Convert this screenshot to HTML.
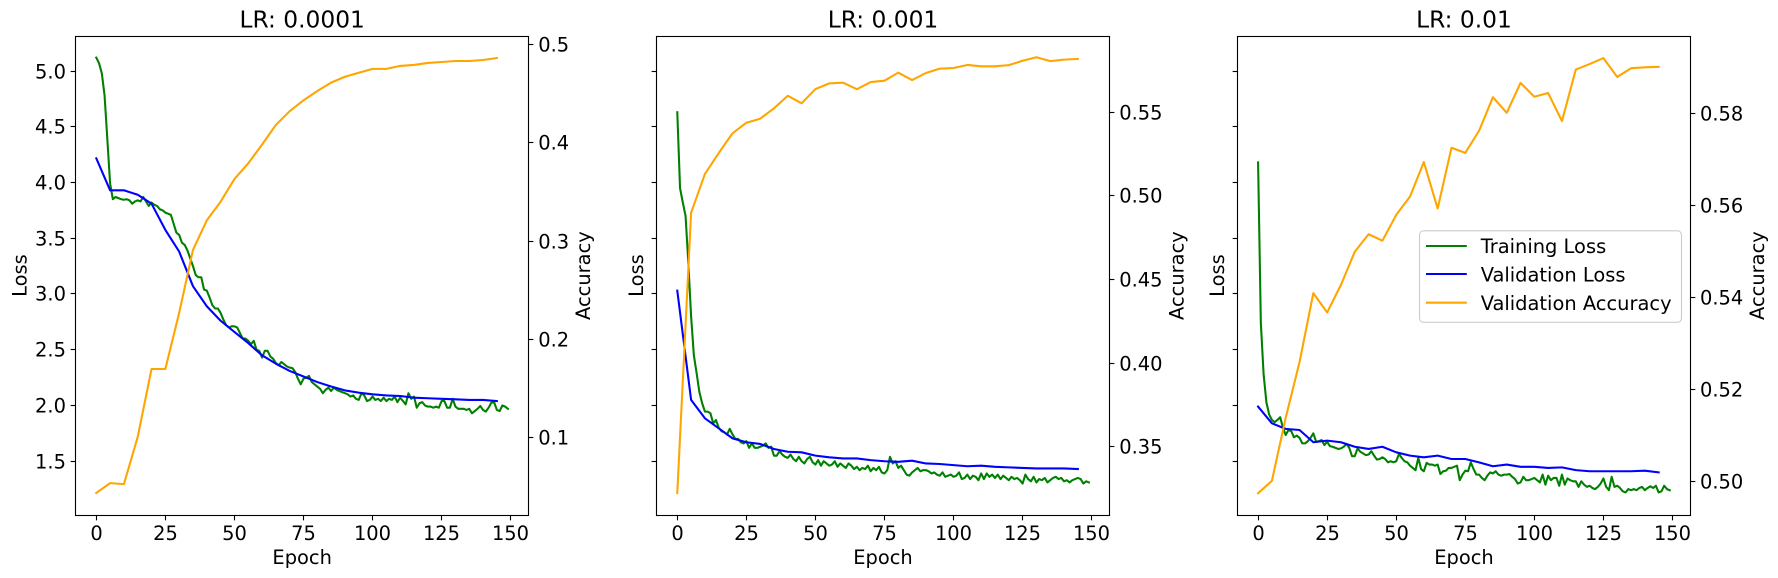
<!DOCTYPE html>
<html lang="en">
<head>
<meta charset="utf-8">
<title>Learning rate comparison</title>
<style>
html,body{margin:0;padding:0;background:#fff;}
svg{display:block;}
text{font-family:"DejaVu Sans","Liberation Sans",sans-serif;fill:#000;}
.lbl{font-size:19.44px;}
.ttl{font-size:23.33px;text-anchor:middle;}
</style>
</head>
<body>
<svg id="chart" xmlns="http://www.w3.org/2000/svg" width="1778" height="578" viewBox="0 0 1778 578">
  <rect x="0" y="0" width="1778" height="578" fill="#fff"/>
  <g id="panel-0"></g>
  <g id="panel-1"></g>
  <g id="panel-2"></g>

  <text class="ttl" x="302.2" y="27.7">LR: 0.0001</text>
  <text class="ttl" x="883" y="27.7">LR: 0.001</text>
  <text class="ttl" x="1464" y="27.7">LR: 0.01</text>

  <text class="lbl" x="302.2" y="564" text-anchor="middle">Epoch</text>
  <text class="lbl" x="883" y="564" text-anchor="middle">Epoch</text>
  <text class="lbl" x="1464" y="564" text-anchor="middle">Epoch</text>

  <text class="lbl" text-anchor="middle" transform="translate(26.5,275.6) rotate(-90)">Loss</text>
  <text class="lbl" text-anchor="middle" transform="translate(643,275.6) rotate(-90)">Loss</text>
  <text class="lbl" text-anchor="middle" transform="translate(1224,275.6) rotate(-90)">Loss</text>

  <text class="lbl" text-anchor="middle" transform="translate(590,275.6) rotate(-90)">Accuracy</text>
  <text class="lbl" text-anchor="middle" transform="translate(1183.5,275.6) rotate(-90)">Accuracy</text>
  <text class="lbl" text-anchor="middle" transform="translate(1764,275.6) rotate(-90)">Accuracy</text>

  <g>
    <rect x="1419.5" y="230.8" width="262" height="91.5" rx="4" ry="4" fill="#fff" fill-opacity="0.8" stroke="#ccc" stroke-width="1.11"/>
    <line x1="1426" x2="1466.8" y1="246" y2="246" stroke="#008000" stroke-width="2.08"/>
    <text class="lbl" x="1480.7" y="253">Training Loss</text>
    <line x1="1426" x2="1466.8" y1="274" y2="274" stroke="#0000ff" stroke-width="2.08"/>
    <text class="lbl" x="1480.7" y="281.5">Validation Loss</text>
    <line x1="1426" x2="1466.8" y1="302.7" y2="302.7" stroke="#ffa500" stroke-width="2.08"/>
    <text class="lbl" x="1480.7" y="310">Validation Accuracy</text>
  </g>
</svg>
<script>
// Data: loss per epoch (0-149), validation metrics every 5 epochs (0-145)
const xTicks = [0, 25, 50, 75, 100, 125, 150];
const lossTicks = [1.5, 2.0, 2.5, 3.0, 3.5, 4.0, 4.5, 5.0];
const lossDomain = [1.015, 5.314];
const epochDomain = [-7.45, 156.45];
const valEvery = 5;

const trainLoss1 = [5.12,5.07,4.98,4.78,4.39,3.99,3.85,3.87,3.86,3.85,3.845,3.85,3.84,3.81,3.83,3.84,3.83,3.87,3.83,3.79,3.82,3.80,3.79,3.76,3.75,3.73,3.72,3.71,3.63,3.55,3.53,3.46,3.44,3.39,3.32,3.25,3.17,3.15,3.15,3.04,3.03,2.97,2.90,2.87,2.87,2.83,2.77,2.72,2.70,2.71,2.71,2.70,2.65,2.60,2.60,2.58,2.55,2.58,2.50,2.49,2.43,2.49,2.49,2.44,2.42,2.38,2.36,2.39,2.37,2.35,2.34,2.335,2.30,2.24,2.19,2.24,2.25,2.265,2.21,2.19,2.17,2.15,2.11,2.14,2.16,2.13,2.16,2.14,2.13,2.12,2.11,2.10,2.08,2.09,2.06,2.05,2.11,2.09,2.04,2.05,2.08,2.05,2.06,2.04,2.07,2.04,2.06,2.05,2.08,2.03,2.07,2.04,2.01,2.11,2.06,2.08,1.98,2.02,2.03,2.00,1.99,1.99,1.98,1.99,1.98,2.04,2.04,1.98,1.98,2.06,1.99,1.97,1.97,1.97,1.96,1.97,1.93,1.95,1.97,1.995,1.96,1.945,1.98,2.025,2.03,1.96,1.95,2.00,1.99,1.97];
const valLoss1 = [4.217,3.93,3.93,3.89,3.81,3.575,3.38,3.07,2.89,2.76,2.66,2.56,2.45,2.375,2.31,2.26,2.21,2.17,2.135,2.115,2.10,2.09,2.085,2.07,2.065,2.06,2.055,2.05,2.05,2.04];
const valAcc1 = [0.044,0.054,0.053,0.101,0.170,0.170,0.227,0.291,0.321,0.340,0.363,0.379,0.398,0.418,0.432,0.443,0.4525,0.461,0.467,0.471,0.475,0.475,0.478,0.479,0.481,0.482,0.483,0.483,0.484,0.486];
const accTicks1 = [0.1, 0.2, 0.3, 0.4, 0.5];
const accLabels1 = ["0.1","0.2","0.3","0.4","0.5"];
const accDomain1 = [0.0213, 0.5084];

const trainLoss2 = [4.63,3.95,3.82,3.70,3.28,2.80,2.45,2.29,2.12,2.02,1.945,1.945,1.93,1.84,1.87,1.80,1.77,1.76,1.74,1.79,1.74,1.70,1.70,1.67,1.66,1.68,1.62,1.66,1.62,1.62,1.63,1.64,1.66,1.62,1.63,1.55,1.55,1.59,1.56,1.54,1.53,1.56,1.52,1.50,1.54,1.50,1.48,1.52,1.54,1.49,1.47,1.51,1.46,1.50,1.48,1.46,1.47,1.50,1.45,1.48,1.46,1.44,1.48,1.46,1.43,1.45,1.42,1.44,1.43,1.46,1.41,1.44,1.42,1.45,1.40,1.39,1.42,1.54,1.48,1.50,1.44,1.46,1.42,1.38,1.37,1.40,1.42,1.44,1.41,1.42,1.42,1.41,1.39,1.40,1.38,1.37,1.40,1.36,1.37,1.38,1.36,1.37,1.40,1.34,1.35,1.38,1.34,1.37,1.36,1.33,1.39,1.34,1.39,1.36,1.38,1.35,1.38,1.34,1.37,1.35,1.33,1.36,1.34,1.35,1.33,1.30,1.38,1.34,1.32,1.36,1.31,1.34,1.33,1.35,1.31,1.33,1.35,1.36,1.34,1.35,1.32,1.33,1.31,1.33,1.34,1.35,1.34,1.30,1.32,1.31];
const valLoss2 = [3.03,2.05,1.885,1.795,1.705,1.67,1.655,1.61,1.585,1.58,1.55,1.535,1.525,1.525,1.51,1.50,1.495,1.505,1.48,1.475,1.465,1.455,1.46,1.45,1.445,1.44,1.435,1.435,1.435,1.43];
const valAcc2 = [0.3224,0.4898,0.513,0.5255,0.5373,0.5436,0.546,0.5522,0.5597,0.5552,0.5637,0.5671,0.5675,0.5636,0.5679,0.5687,0.5735,0.5691,0.5733,0.5759,0.5763,0.5781,0.5773,0.5773,0.578,0.5806,0.5827,0.5804,0.5813,0.5817];
const accTicks2 = [0.35, 0.40, 0.45, 0.50, 0.55];
const accLabels2 = ["0.35","0.40","0.45","0.50","0.55"];
const accDomain2 = [0.3091, 0.5954];

const trainLoss3 = [4.18,2.74,2.28,2.03,1.92,1.87,1.85,1.87,1.895,1.80,1.735,1.78,1.77,1.715,1.73,1.71,1.66,1.66,1.68,1.71,1.75,1.675,1.68,1.69,1.645,1.675,1.635,1.63,1.62,1.61,1.615,1.63,1.655,1.62,1.545,1.545,1.615,1.585,1.57,1.555,1.56,1.59,1.55,1.515,1.52,1.535,1.52,1.49,1.50,1.49,1.50,1.565,1.53,1.50,1.49,1.46,1.44,1.42,1.53,1.43,1.41,1.485,1.47,1.47,1.46,1.47,1.385,1.41,1.415,1.44,1.44,1.45,1.46,1.33,1.38,1.415,1.41,1.49,1.43,1.38,1.38,1.35,1.33,1.37,1.40,1.39,1.41,1.38,1.37,1.38,1.38,1.385,1.36,1.34,1.30,1.31,1.36,1.33,1.33,1.34,1.35,1.33,1.31,1.38,1.29,1.37,1.33,1.35,1.35,1.28,1.38,1.29,1.345,1.33,1.32,1.32,1.27,1.32,1.29,1.27,1.28,1.26,1.25,1.27,1.30,1.345,1.27,1.24,1.36,1.27,1.28,1.26,1.23,1.22,1.25,1.24,1.25,1.24,1.26,1.27,1.24,1.26,1.275,1.26,1.28,1.22,1.23,1.28,1.25,1.24];
const valLoss3 = [1.99,1.84,1.79,1.78,1.67,1.685,1.67,1.63,1.61,1.63,1.58,1.55,1.535,1.55,1.52,1.52,1.49,1.455,1.47,1.45,1.45,1.44,1.445,1.42,1.41,1.41,1.41,1.41,1.415,1.40];
const valAcc3 = [0.4974,0.5001,0.5138,0.5259,0.5409,0.5367,0.5427,0.5499,0.5537,0.5523,0.5579,0.5619,0.5694,0.5593,0.5725,0.5714,0.5762,0.5835,0.5801,0.5866,0.5836,0.5844,0.5783,0.5895,0.5907,0.592,0.5879,0.5898,0.59,0.5901];
const accTicks3 = [0.50, 0.52, 0.54, 0.56, 0.58];
const accLabels3 = ["0.50","0.52","0.54","0.56","0.58"];
const accDomain3 = [0.4926, 0.5968];

const SVGNS = "http://www.w3.org/2000/svg";
const axTop = 36, axBottom = 515.3, axWidth = 452.8;
const tickLen = 4.86, tickPad = 4.86;
const INK = "#000";

function mapper(domain, r0, r1) {
  return function (v) { return r0 + (v - domain[0]) / (domain[1] - domain[0]) * (r1 - r0); };
}
function snap(v) { return Math.round(v - 0.5) + 0.5; }
function make(tag, parent, attrs) {
  const el = document.createElementNS(SVGNS, tag);
  for (const k in attrs) el.setAttribute(k, attrs[k]);
  parent.appendChild(el);
  return el;
}
function seriesPath(parent, values, step, xf, yf, color, name) {
  const d = values.map(function (v, i) {
    return (i ? "L" : "M") + xf(i * step).toFixed(2) + " " + yf(v).toFixed(2);
  }).join(" ");
  const p = make("path", parent, { d: d, fill: "none", stroke: color, "stroke-width": 2.08, "stroke-linejoin": "round", "stroke-linecap": "square" });
  
  
  return p;
}

function drawPanel(index, left, train, vLoss, vAcc, aTicks, aLabels, aDomain, showLossLabels) {
  const g = document.getElementById("panel-" + index);
  const right = left + axWidth;
  const xf = mapper(epochDomain, left, right);
  const yLoss = mapper(lossDomain, axBottom, axTop);
  const yAcc = mapper(aDomain, axBottom, axTop);

  seriesPath(g, train, 1, xf, yLoss, "#008000", "training-loss-line");
  seriesPath(g, vLoss, valEvery, xf, yLoss, "#0000ff", "validation-loss-line");
  seriesPath(g, vAcc, valEvery, xf, yAcc, "#ffa500", "validation-accuracy-line");

  const frame = make("rect", g, { x: snap(left), y: snap(axTop), width: snap(right) - snap(left), height: snap(axBottom) - snap(axTop), fill: "none", stroke: INK, "stroke-width": 1.11 });
  
  

  xTicks.forEach(function (t) {
    const x = snap(xf(t));
    const tick = make("line", g, { x1: x, x2: x, y1: snap(axBottom), y2: snap(axBottom) + tickLen, stroke: INK, "stroke-width": 1.11 });
    
    
    const label = make("text", g, { x: x, y: 540, "text-anchor": "middle", "class": "lbl" });
    label.textContent = String(t);
    
    
  });

  lossTicks.forEach(function (t) {
    const y = snap(yLoss(t));
    const tick = make("line", g, { x1: snap(left) - tickLen, x2: snap(left), y1: y, y2: y, stroke: INK, "stroke-width": 1.11 });
    
    
    if (showLossLabels) {
      const label = make("text", g, { x: left - tickLen - tickPad, y: y + 7.2, "text-anchor": "end", "class": "lbl" });
      label.textContent = t.toFixed(1);
      
      
    }
  });

  aTicks.forEach(function (t, i) {
    const y = snap(yAcc(t));
    const tick = make("line", g, { x1: snap(right), x2: snap(right) + tickLen, y1: y, y2: y, stroke: INK, "stroke-width": 1.11 });
    
    
    const label = make("text", g, { x: right + tickLen + tickPad, y: y + 7.2, "text-anchor": "start", "class": "lbl" });
    label.textContent = aLabels[i];
    
    
  });
}

drawPanel(0, 75.7, trainLoss1, valLoss1, valAcc1, accTicks1, accLabels1, accDomain1, true);
drawPanel(1, 656.7, trainLoss2, valLoss2, valAcc2, accTicks2, accLabels2, accDomain2, false);
drawPanel(2, 1237.5, trainLoss3, valLoss3, valAcc3, accTicks3, accLabels3, accDomain3, false);
</script>
</body>
</html>
